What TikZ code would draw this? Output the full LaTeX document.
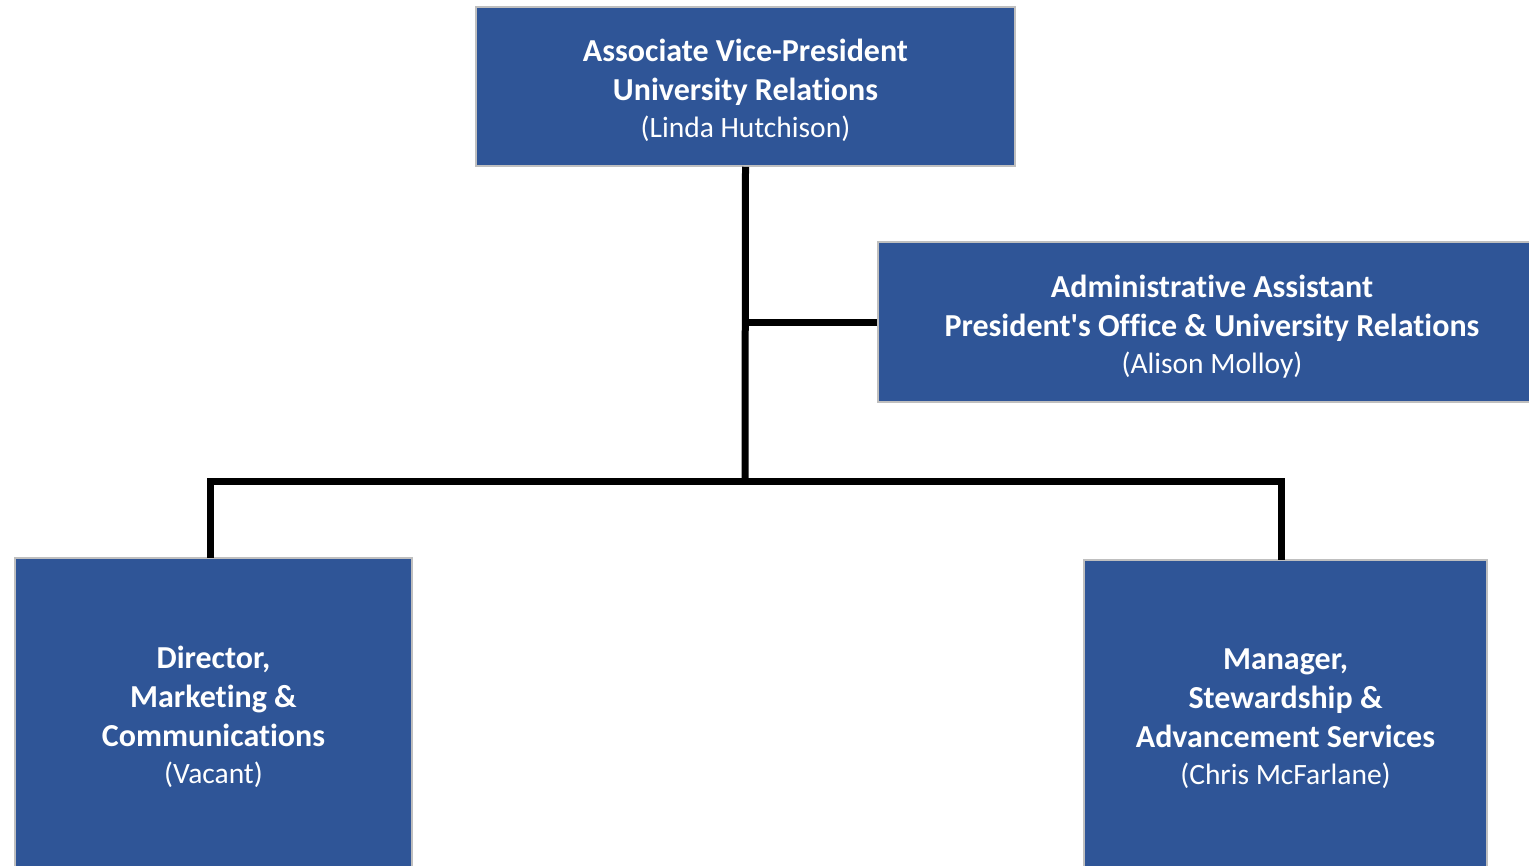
\documentclass[tikz,border=0pt]{standalone}
\usepackage{fontspec}
\setmainfont{Carlito}[Ligatures=NoCommon]
\definecolor{boxblue}{HTML}{2F5597}
\definecolor{boxedge}{HTML}{BFBFBF}
\tikzset{
  orgbox/.style={draw=boxedge, line width=1.5bp, fill=boxblue, inner sep=0pt},
  boxtext/.style={text=white, align=center, inner sep=0pt, font=\fontsize{32bp}{39bp}\selectfont},
  link/.style={line width=7bp, black, line join=miter}
}
\newcommand{\who}[1]{{\fontsize{29.5bp}{39bp}\selectfont\mdseries #1}}
\begin{document}
\begin{tikzpicture}[x=1bp,y=-1bp]
\clip (0,0) rectangle (1529,865);
\fill[white] (0,0) rectangle (1529,865);
\node[orgbox, minimum width=539bp, minimum height=159bp] (avp) at (745.5,86.5) {};
\node[boxtext] (avpt) at ([yshift=-4bp]avp.center)
  {\bfseries Associate Vice-President\\\bfseries University Relations\\[-2bp]\who{(Linda Hutchison)}};
\node[orgbox, minimum width=668bp, minimum height=160bp] (admin) at (1212,322) {};
\node[boxtext] (admint) at ([yshift=-5bp]admin.center)
  {\bfseries Administrative Assistant\\\bfseries President\textquotesingle s Office \& University Relations\\[-2bp]\who{(Alison Molloy)}};
\node[orgbox, minimum width=397bp, minimum height=314bp] (dir) at (213.5,715) {};
\node[boxtext] (dirt) at ([yshift=-2bp]dir.center)
  {\bfseries Director,\\\bfseries Marketing \&\\\bfseries Communications\\[-2bp]\who{(Vacant)}};
\node[orgbox, minimum width=403bp, minimum height=312bp] (mgr) at (1285.5,716) {};
\node[boxtext] (mgrt) at ([yshift=-3bp]mgr.center)
  {\bfseries Manager,\\\bfseries Stewardship \&\\\bfseries Advancement Services\\[-2bp]\who{(Chris McFarlane)}};
\coordinate (j) at (745,481);
\coordinate (dtop) at (210,557.5);
\coordinate (mtop) at (1281,559.5);
\draw[link] (avp.south) -- (j);
\draw[link] (admin.west) -- (admin.west -| j);
\draw[link] (dtop) |- (j) -| (mtop);
\end{tikzpicture}
\end{document}
